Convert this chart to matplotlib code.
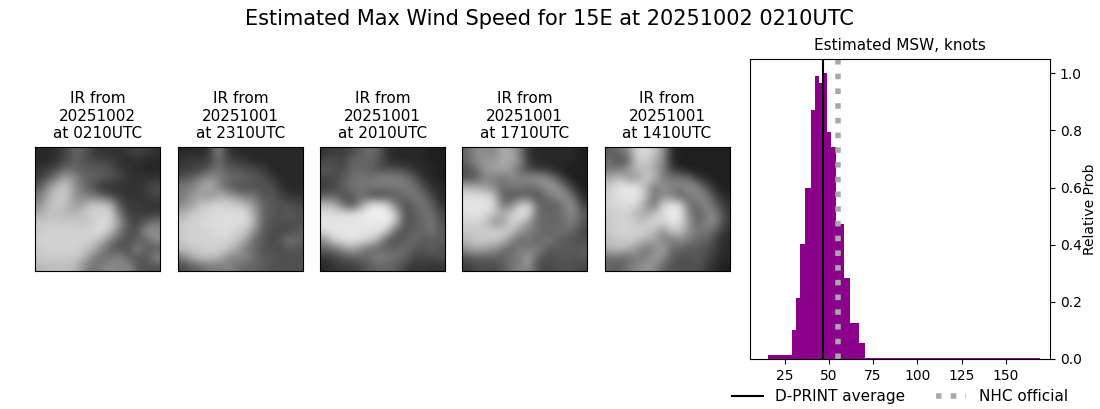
import numpy as np
import matplotlib
matplotlib.use('Agg')
import matplotlib.pyplot as plt

# 14x14 brightness (in tens of grey level)
ir_0210 = [
    [4, 4, 5, 7, 10, 9, 6, 5, 5, 5, 6, 7, 6, 5],
    [4, 4, 5, 7, 10, 8, 7, 7, 6, 5, 4, 5, 4, 4],
    [5, 6, 8, 11, 10, 9, 9, 9, 8, 6, 5, 4, 4, 4],
    [6, 9, 13, 17, 14, 10, 10, 9, 8, 7, 5, 5, 5, 5],
    [9, 15, 19, 20, 14, 11, 8, 5, 5, 5, 5, 5, 6, 8],
    [12, 17, 20, 20, 15, 13, 12, 10, 7, 6, 5, 5, 6, 7],
    [14, 19, 20, 19, 15, 17, 20, 20, 18, 8, 6, 6, 5, 5],
    [17, 19, 19, 18, 18, 20, 21, 21, 21, 12, 6, 6, 6, 6],
    [20, 20, 20, 20, 20, 19, 20, 22, 21, 15, 8, 7, 9, 12],
    [20, 21, 21, 21, 21, 21, 22, 22, 19, 12, 8, 8, 16, 14],
    [21, 21, 21, 21, 21, 21, 20, 18, 13, 9, 8, 9, 10, 14],
    [20, 21, 21, 21, 21, 20, 18, 13, 9, 8, 8, 14, 9, 9],
    [20, 20, 20, 20, 20, 18, 13, 11, 12, 14, 10, 8, 9, 14],
    [18, 19, 19, 19, 18, 14, 11, 13, 14, 13, 14, 9, 8, 8],
]
ir_2310 = [
    [4, 4, 4, 5, 14, 6, 4, 4, 4, 4, 4, 4, 4, 4],
    [5, 6, 6, 6, 11, 7, 6, 5, 4, 4, 4, 4, 4, 4],
    [6, 6, 7, 9, 12, 9, 9, 8, 7, 6, 4, 4, 4, 4],
    [8, 10, 12, 15, 13, 11, 10, 10, 9, 8, 6, 4, 4, 4],
    [12, 13, 16, 18, 14, 10, 8, 8, 8, 8, 8, 5, 4, 4],
    [12, 15, 16, 14, 17, 17, 14, 12, 12, 8, 9, 7, 5, 5],
    [14, 16, 19, 21, 21, 21, 20, 19, 15, 10, 9, 8, 8, 7],
    [17, 20, 21, 21, 22, 22, 22, 22, 17, 10, 9, 8, 9, 8],
    [20, 21, 21, 22, 22, 22, 22, 22, 18, 10, 8, 8, 8, 8],
    [20, 21, 21, 21, 22, 22, 21, 20, 15, 9, 8, 7, 7, 9],
    [20, 21, 21, 21, 21, 21, 20, 17, 11, 9, 7, 9, 12, 10],
    [19, 20, 20, 21, 21, 20, 17, 12, 11, 8, 8, 7, 9, 8],
    [12, 17, 19, 19, 18, 14, 13, 14, 11, 9, 9, 8, 8, 8],
    [7, 9, 10, 12, 12, 13, 12, 10, 10, 9, 8, 8, 8, 8],
]
ir_2010 = [
    [5, 6, 6, 7, 9, 11, 10, 5, 4, 4, 4, 4, 3, 3],
    [7, 8, 6, 10, 10, 10, 9, 5, 4, 4, 4, 4, 3, 3],
    [9, 8, 7, 10, 10, 10, 8, 8, 8, 7, 5, 4, 4, 3],
    [7, 7, 9, 11, 12, 11, 13, 13, 13, 12, 9, 5, 4, 3],
    [6, 7, 9, 11, 12, 12, 12, 12, 12, 12, 12, 8, 5, 4],
    [9, 10, 8, 9, 11, 8, 7, 8, 9, 11, 12, 11, 7, 4],
    [19, 18, 12, 7, 14, 22, 23, 21, 12, 8, 10, 12, 10, 5],
    [22, 22, 22, 22, 23, 24, 24, 24, 20, 8, 9, 11, 11, 7],
    [23, 23, 23, 23, 23, 23, 23, 24, 19, 8, 9, 10, 12, 8],
    [22, 23, 23, 23, 23, 23, 23, 20, 10, 8, 10, 10, 12, 9],
    [14, 21, 22, 23, 22, 21, 17, 9, 8, 9, 11, 9, 9, 9],
    [10, 11, 14, 17, 14, 11, 10, 10, 10, 11, 9, 8, 10, 8],
    [5, 7, 8, 9, 10, 11, 13, 12, 11, 10, 7, 7, 7, 8],
    [4, 5, 6, 6, 7, 9, 10, 10, 9, 7, 5, 6, 5, 5],
]
ir_1710 = [
    [10, 14, 14, 13, 17, 17, 12, 5, 4, 4, 4, 4, 4, 3],
    [10, 14, 15, 15, 17, 17, 14, 5, 4, 4, 4, 4, 4, 3],
    [8, 10, 15, 16, 17, 15, 11, 7, 6, 5, 4, 3, 3, 3],
    [8, 9, 13, 13, 11, 14, 13, 14, 15, 14, 10, 5, 3, 3],
    [18, 17, 16, 14, 11, 12, 12, 11, 12, 15, 15, 11, 5, 3],
    [22, 22, 22, 20, 10, 8, 9, 9, 8, 11, 14, 15, 10, 4],
    [23, 23, 23, 22, 12, 13, 20, 21, 10, 10, 9, 13, 14, 6],
    [22, 23, 22, 20, 17, 20, 23, 22, 11, 10, 10, 12, 14, 9],
    [21, 21, 20, 15, 15, 21, 20, 15, 10, 11, 10, 11, 13, 8],
    [20, 20, 20, 21, 21, 20, 15, 13, 12, 9, 11, 11, 10, 7],
    [18, 20, 20, 20, 19, 14, 10, 12, 9, 13, 10, 9, 8, 8],
    [15, 17, 16, 15, 12, 10, 13, 11, 14, 9, 9, 9, 9, 9],
    [8, 10, 9, 10, 9, 12, 12, 17, 9, 8, 8, 9, 8, 9],
    [6, 7, 8, 7, 9, 11, 13, 14, 8, 7, 8, 8, 8, 7],
]
ir_1410 = [
    [9, 11, 13, 21, 22, 20, 15, 4, 3, 3, 3, 3, 3, 3],
    [11, 8, 9, 20, 21, 18, 14, 4, 3, 3, 3, 3, 3, 3],
    [12, 12, 15, 18, 19, 17, 13, 6, 4, 3, 3, 3, 3, 3],
    [17, 19, 16, 15, 20, 19, 12, 12, 12, 10, 5, 4, 3, 3],
    [20, 23, 23, 23, 19, 12, 15, 13, 13, 15, 13, 7, 4, 3],
    [21, 22, 23, 23, 20, 11, 14, 13, 9, 12, 14, 12, 6, 4],
    [21, 22, 22, 22, 16, 11, 21, 23, 21, 10, 12, 14, 9, 5],
    [20, 21, 21, 18, 17, 19, 22, 24, 23, 13, 9, 13, 13, 6],
    [20, 21, 21, 20, 19, 22, 21, 23, 22, 14, 10, 14, 13, 6],
    [20, 21, 21, 21, 21, 19, 14, 20, 19, 14, 12, 12, 9, 5],
    [19, 20, 20, 20, 17, 17, 13, 12, 14, 12, 10, 10, 6, 4],
    [18, 19, 18, 15, 12, 13, 17, 11, 10, 9, 9, 8, 6, 4],
    [11, 11, 10, 13, 12, 16, 14, 9, 8, 8, 9, 7, 5, 4],
    [10, 9, 12, 13, 15, 14, 10, 8, 8, 8, 8, 6, 4, 3],
]
ir_images = [ir_0210, ir_2310, ir_2010, ir_1710, ir_1410]
ir_dates = ['20251002', '20251001', '20251001', '20251001', '20251001']
ir_times = ['0210', '2310', '2010', '1710', '1410']

# histogram of estimated MSW
msw_edges = [15.4, 29, 31.2, 34, 36.3, 39.7, 42, 44.2, 46.5, 48.8, 51, 53.8, 58.4, 61.8, 66.9, 70.2, 169]
msw_probs = [0.015, 0.103, 0.215, 0.404, 0.60, 0.87, 0.992, 0.967, 1.0, 0.796, 0.743, 0.474, 0.285, 0.127, 0.057, 0.004]
dprint_avg = 46.7
nhc_official = 55

W, H = 1100, 409
fig = plt.figure(figsize=(W / 100, H / 100), dpi=100)
fig.suptitle('Estimated Max Wind Speed for 15E at 20251002 0210UTC', fontsize=15, x=0.4995, y=0.979)

ir_lefts = [35, 178, 320, 462, 604.5]
for left, img, date, time in zip(ir_lefts, ir_images, ir_dates, ir_times):
    ax = fig.add_axes([left / W, 1 - 271 / H, 125 / W, 124 / H])
    ax.imshow(np.array(img) * 10, cmap='gray', vmin=0, vmax=255, interpolation='bicubic', aspect='auto')
    ax.set_xticks([])
    ax.set_yticks([])
    ax.set_title('IR from\n{}\nat {}UTC'.format(date, time), fontsize=11, pad=6.4)

ax = fig.add_axes([750 / W, 1 - 359 / H, 300 / W, 300 / H])
ax.hist(msw_edges[:-1], bins=msw_edges, weights=msw_probs, color='darkmagenta')
ax.axvline(dprint_avg, color='k', lw=1.5, label='D-PRINT average')
ax.axvline(nhc_official, color='darkgrey', lw=4, ls=':', label='NHC official')
ax.set_xlim(5.5, 174.9)
ax.set_ylim(0, 1.05)
ax.yaxis.tick_right()
ax.yaxis.set_label_position('right')
ax.set_ylabel('Relative Prob', labelpad=1)
ax.set_title('Estimated MSW, knots', fontsize=11, pad=6.4)
ax.legend(loc='upper center', bbox_to_anchor=(0.5, -0.055), ncol=2, frameon=False, fontsize=11)

fig.savefig('out.png', dpi=100)
